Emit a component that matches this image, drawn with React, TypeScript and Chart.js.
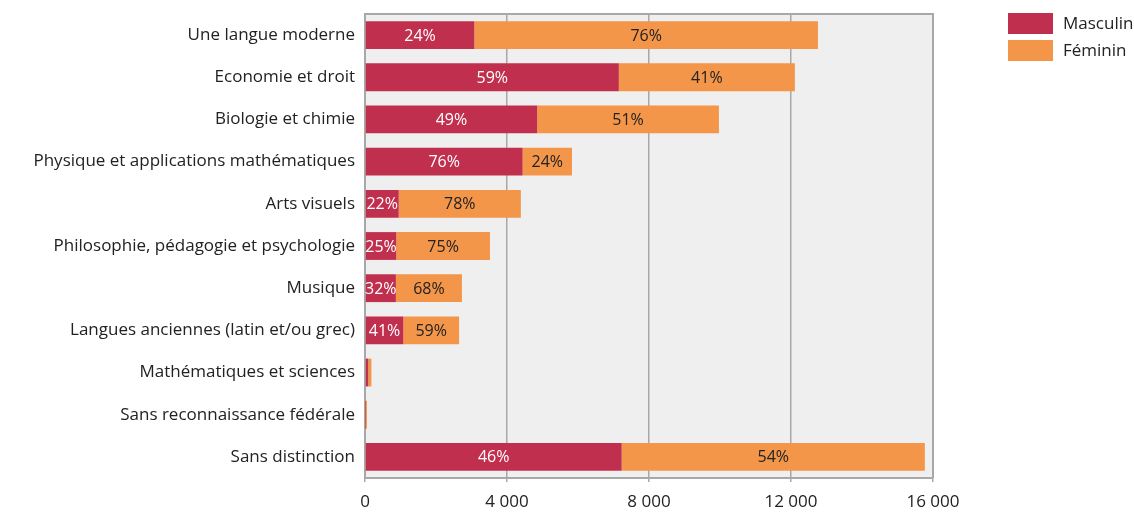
import React, { useEffect, useRef } from "react";
import { Chart, registerables } from "chart.js";

Chart.register(...registerables);

const categories = [
  "Une langue moderne",
  "Economie et droit",
  "Biologie et chimie",
  "Physique et applications mathématiques",
  "Arts visuels",
  "Philosophie, pédagogie et psychologie",
  "Musique",
  "Langues anciennes (latin et/ou grec)",
  "Mathématiques et sciences",
  "Sans reconnaissance fédérale",
  "Sans distinction",
];

const masculin = [3080, 7150, 4850, 4440, 950, 880, 870, 1080, 90, 5, 7230];
const feminin = [9680, 4960, 5120, 1390, 3440, 2640, 1860, 1570, 90, 50, 8540];

const masculinPct: (string | null)[] = ["24%", "59%", "49%", "76%", "22%", "25%", "32%", "41%", null, null, "46%"];
const femininPct: (string | null)[] = ["76%", "41%", "51%", "24%", "78%", "75%", "68%", "59%", null, null, "54%"];

const xTicks = [0, 4000, 8000, 12000, 16000];

const FONT = "'Open Sans', 'DejaVu Sans', sans-serif";
const RED = "#c0304e";
const ORANGE = "#f39649";
const GRID = "#a8a8a8";

export default function App() {
  const ref = useRef<HTMLCanvasElement | null>(null);

  useEffect(() => {
    if (!ref.current) return;

    const bgPlugin = {
      id: "bgPlugin",
      beforeDraw(chart: any) {
        const { ctx, chartArea: a } = chart;
        ctx.save();
        ctx.fillStyle = "#efefef";
        ctx.fillRect(a.left, a.top, a.right - a.left, a.bottom - a.top);
        ctx.restore();
      },
      afterDraw(chart: any) {
        const { ctx, chartArea: a } = chart;
        ctx.save();
        ctx.strokeStyle = GRID;
        ctx.lineWidth = 2;
        ctx.beginPath();
        ctx.moveTo(a.left, a.top);
        ctx.lineTo(a.right, a.top);
        ctx.lineTo(a.right, a.bottom);
        ctx.stroke();
        ctx.font = "16px " + FONT;
        ctx.textAlign = "center";
        ctx.textBaseline = "middle";
        const pctSets = [masculinPct, femininPct];
        const colors = ["#ffffff", "#222222"];
        chart.data.datasets.forEach((_ds: any, di: number) => {
          const meta = chart.getDatasetMeta(di);
          meta.data.forEach((bar: any, i: number) => {
            const t = pctSets[di][i];
            if (!t) return;
            const p = bar.getProps(["x", "y", "base"], true);
            const cx = (p.x + p.base) / 2;
            ctx.fillStyle = colors[di];
            ctx.fillText(t, cx, p.y + 1);
          });
        });
        ctx.textAlign = "left";
        ctx.font = "17px " + FONT;
        chart.data.datasets.forEach((ds: any, di: number) => {
          const y = 13 + di * 27;
          ctx.fillStyle = ds.backgroundColor;
          ctx.fillRect(1008, y, 45, 21);
          ctx.fillStyle = "#222222";
          ctx.fillText(ds.label, 1063, y + 11);
        });
        ctx.restore();
      },
    };

    const chart = new Chart(ref.current, {
      type: "bar",
      data: {
        labels: categories,
        datasets: [
          { label: "Masculin", data: masculin, backgroundColor: RED, barPercentage: 0.66, categoryPercentage: 1 },
          { label: "Féminin", data: feminin, backgroundColor: ORANGE, barPercentage: 0.66, categoryPercentage: 1 },
        ],
      },
      options: {
        indexAxis: "y",
        responsive: false,
        animation: false,
        layout: { padding: { top: 14, right: 201, left: 0, bottom: 0 } },
        plugins: { legend: { display: false }, tooltip: { enabled: false } },
        scales: {
          x: {
            stacked: true,
            min: 0,
            max: 16000,
            afterBuildTicks(scale: any) {
              scale.ticks = xTicks.map((v) => ({ value: v }));
            },
            afterFit(scale: any) {
              scale.height = 46;
            },
            ticks: {
              padding: 10,
              color: "#222222",
              font: { family: FONT, size: 17 },
              callback: (v: any) => String(v).replace(/\B(?=(\d{3})+(?!\d))/g, " "),
            },
            grid: { color: GRID, lineWidth: 1.5, tickLength: 4, tickColor: GRID },
            border: { display: true, color: GRID, width: 2 },
          },
          y: {
            stacked: true,
            afterFit(scale: any) {
              scale.width = 365;
            },
            ticks: {
              padding: 2,
              color: "#222222",
              font: { family: FONT, size: 17 },
            },
            grid: { display: false },
            border: { display: true, color: GRID, width: 2 },
          },
        },
      },
      plugins: [bgPlugin],
    });

    return () => chart.destroy();
  }, []);

  return (
    <div style={{ position: "absolute", left: 0, top: 0, width: 1134, height: 524, background: "#fff" }}>
      <canvas ref={ref} width={1134} height={524} />
    </div>
  );
}
